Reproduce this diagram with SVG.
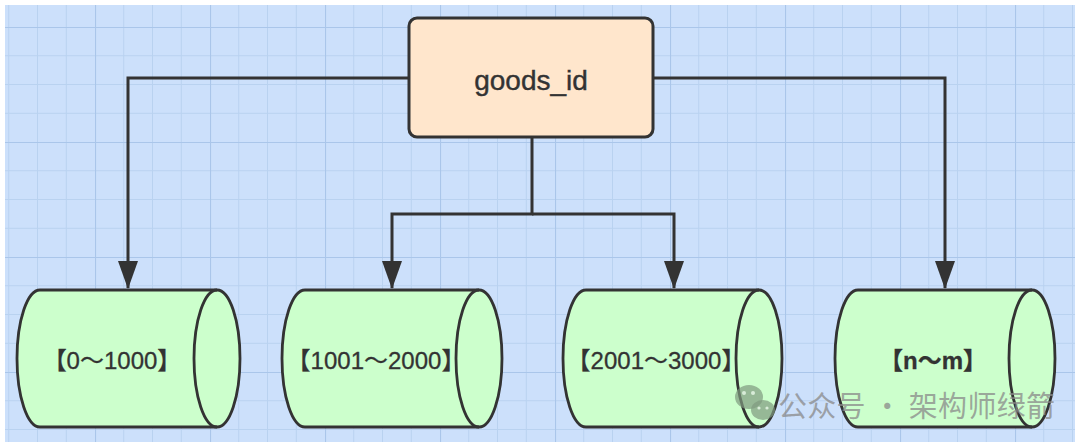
<svg xmlns="http://www.w3.org/2000/svg" width="1080" height="447" viewBox="0 0 1080 447">
  <defs>
    <pattern id="grid" x="95" y="27" width="115" height="115" patternUnits="userSpaceOnUse">
      <path d="M28.75,0V115M57.5,0V115M86.25,0V115M0,28.75H115M0,57.5H115M0,86.25H115" stroke="#b9d2f0" stroke-width="1" fill="none"/>
      <path d="M0.5,0V115M0,0.5H115" stroke="#aac6ea" stroke-width="1.2" fill="none"/>
    </pattern>
    <marker id="arrow" markerUnits="userSpaceOnUse" markerWidth="28" markerHeight="20" viewBox="0 0 28 20" refX="27" refY="10" orient="auto">
      <path d="M0,0 L28,10 L0,20 Z" fill="#333333"/>
    </marker>
  </defs>
  <style>
    .conn { fill: none; stroke: #333333; stroke-width: 3; }
    .cyl { fill: #ccffcc; stroke: #333333; stroke-width: 2.8; }
    .cyl-edge { fill: none; stroke: #333333; stroke-width: 2.8; }
    .lbl { font-family: "Liberation Sans", "Noto Sans CJK SC", sans-serif; font-size: 24px; fill: #333333; stroke: #333333; stroke-width: 0.3; text-anchor: middle; }
    .wm { font-family: "Noto Sans CJK SC", sans-serif; font-size: 29px; fill: #8a8a8a; fill-opacity: 0.75; }
  </style>
  <rect x="0" y="0" width="1080" height="447" fill="#ffffff"/>
  <rect x="5" y="5" width="1070" height="437" fill="#cce0fb"/>
  <rect x="5" y="5" width="1070" height="437" fill="url(#grid)"/>

  <g id="connectors">
    <path class="conn" d="M409,78 H128 V288" marker-end="url(#arrow)"/>
    <path class="conn" d="M653,78 H945 V288" marker-end="url(#arrow)"/>
    <path class="conn" d="M532,137 V214 H392 V288" marker-end="url(#arrow)"/>
    <path class="conn" d="M532,214 H674 V288" marker-end="url(#arrow)"/>
  </g>

  <g id="goods_id">
    <rect x="409" y="18" width="244" height="119" rx="8" ry="8" fill="#ffe6cc" stroke="#333333" stroke-width="3"/>
    <text x="531" y="90" font-family="Liberation Sans, sans-serif" font-size="28" fill="#333333" stroke="#333333" stroke-width="0.4" text-anchor="middle">goods_id</text>
  </g>

  <g id="db1">
    <path class="cyl" d="M40,290 H217 A23,68.5 0 0 1 217,427 H40 A23,68.5 0 0 1 40,290 Z"/>
    <path class="cyl-edge" d="M217,290 A23,68.5 0 0 0 217,427"/>
    <text class="lbl" x="112" y="369">【0～1000】</text>
  </g>

  <g id="db2">
    <path class="cyl" d="M305,290 H479 A23,68.5 0 0 1 479,427 H305 A23,68.5 0 0 1 305,290 Z"/>
    <path class="cyl-edge" d="M479,290 A23,68.5 0 0 0 479,427"/>
    <text class="lbl" x="376" y="369">【1001～2000】</text>
  </g>

  <g id="db3">
    <path class="cyl" d="M586,290 H759 A23,68.5 0 0 1 759,427 H586 A23,68.5 0 0 1 586,290 Z"/>
    <path class="cyl-edge" d="M759,290 A23,68.5 0 0 0 759,427"/>
    <text class="lbl" x="656" y="369">【2001～3000】</text>
  </g>

  <g id="db4">
    <path class="cyl" d="M858,290 H1032 A23,68.5 0 0 1 1032,427 H858 A23,68.5 0 0 1 858,290 Z"/>
    <path class="cyl-edge" d="M1032,290 A23,68.5 0 0 0 1032,427"/>
    <text class="lbl" x="933" y="369" font-weight="bold">【n～m】</text>
  </g>

  <g id="watermark">
    <g fill="#7f9a7f" fill-opacity="0.7">
      <ellipse cx="749" cy="397" rx="14" ry="12"/>
      <ellipse cx="763" cy="410" rx="12" ry="10"/>
    </g>
    <g fill="#d8ecd8">
      <circle cx="744" cy="393" r="2"/>
      <circle cx="753" cy="393" r="2"/>
      <circle cx="759" cy="408" r="1.6"/>
      <circle cx="767" cy="408" r="1.6"/>
    </g>
    <text class="wm" x="778" y="417" textLength="277" lengthAdjust="spacing">公众号 · 架构师绿箭</text>
  </g>
</svg>
